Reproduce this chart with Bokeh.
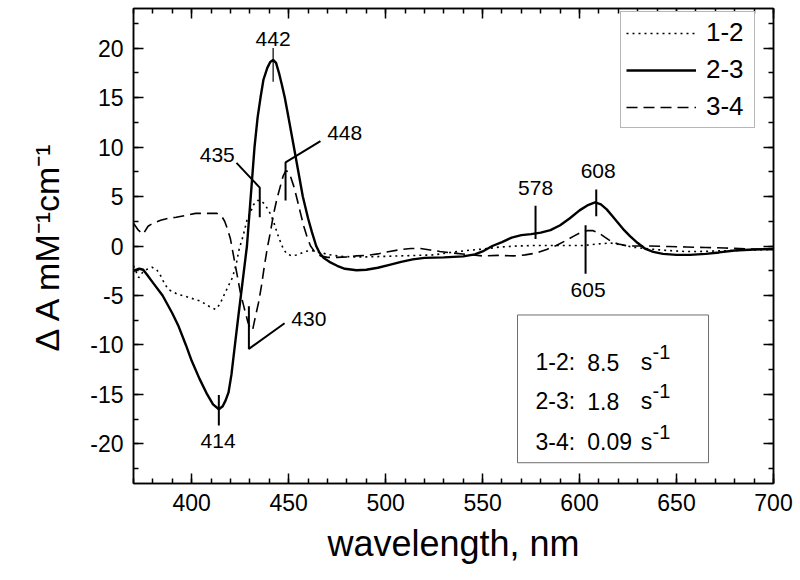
from bokeh.plotting import figure
from bokeh.models import (Range1d, LinearAxis, SingleIntervalTicker, CustomJSTickFormatter)
from bokeh.core.properties import value
from bokeh.embed import file_html
from bokeh.resources import INLINE

FONT = "Liberation Sans"

# ---------------- data ----------------
series_names = ["1-2", "2-3", "3-4"]

wl_12 = [370, 372.7, 375.3, 379.6, 382, 384, 386, 388, 392.5, 397, 401, 405, 408, 410, 412.3,
         414.5, 416.6, 419, 421, 423, 424.5, 426.5, 428.5, 430.3, 432, 433.8, 435.5, 437.2, 439,
         440.7, 442.5, 444.1, 446, 447.5, 449.5, 451.8, 454, 456.1, 458.5, 461.3, 464, 466.4, 470,
         476.8, 483, 490.5, 499, 507.7, 516, 524.9, 533.5, 542, 550.7, 559, 567.9, 576, 585, 594,
         602, 609, 616, 622, 628, 636, 645, 654, 662, 671, 680, 690, 700]
dA_12 = [-2.0, -3.2, -2.5, -2.15, -2.4, -3.0, -3.8, -4.4, -4.85, -5.1, -5.35, -5.6, -6.0, -6.2, -6.4,
         -5.9, -5.0, -4.0, -3.2, -1.8, -0.3, 1.0, 2.6, 3.4, 4.2, 4.6, 4.6, 4.3, 3.8,
         3.2, 2.3, 1.3, 0.3, -0.4, -0.85, -1.0, -0.9, -0.75, -0.55, -0.45, -0.55, -0.65, -0.85,
         -1.05, -1.1, -1.1, -1.05, -1.0, -0.95, -0.9, -0.65, -0.45, -0.3, -0.1, 0.0, 0.05, 0.05, 0.05,
         0.05, 0.2, 0.3, 0.1, -0.13, -0.3, -0.45, -0.55, -0.55, -0.5, -0.45, -0.4, -0.35]

wl_23 = [370, 373, 375, 377, 380, 385, 390, 393, 397, 400, 404, 408, 411, 414, 416, 417.5, 419,
         420.5, 422.3, 424, 426, 428.5, 430.5, 432.4, 434, 435.5, 437, 439, 440.5, 442, 443.5,
         445, 446.5, 448, 450, 452.7, 455, 457.3, 460, 462, 464.2, 466, 468, 471, 475, 479, 485,
         490, 496, 502, 508, 514, 520, 530, 540, 546, 550, 555, 560, 565, 570, 575, 580, 585, 590,
         595, 600, 604, 608, 611, 614, 617, 620, 623, 626, 630, 634, 638, 643, 650, 657, 665, 672,
         680, 690, 700]
dA_23 = [-2.5, -2.3, -2.4, -2.9, -3.7, -5.0, -6.8, -8.0, -10.0, -11.6, -13.4, -15.0, -16.0, -16.5,
         -16.2, -15.6, -14.8, -13.0, -10.0, -7.2, -4.0, 0.0, 5.1, 10.0, 13.0, 15.0, 16.8, 18.0, 18.6,
         18.8, 18.5, 17.5, 16.3, 15.0, 12.9, 10.0, 7.5, 5.0, 2.8, 1.4, 0.0, -0.7, -1.2, -1.6, -2.0,
         -2.3, -2.45, -2.4, -2.2, -1.9, -1.6, -1.35, -1.2, -1.15, -1.05, -0.85, -0.55, 0.0, 0.4,
         0.85, 1.1, 1.2, 1.35, 1.6, 2.1, 2.8, 3.6, 4.1, 4.4, 4.2, 3.7, 3.0, 2.3, 1.6, 1.0, 0.3,
         -0.3, -0.6, -0.8, -0.9, -0.9, -0.8, -0.65, -0.45, -0.35, -0.3]

wl_34 = [370, 372.5, 375, 377.5, 380, 384, 388, 392, 397, 402, 408, 413, 415.5, 417, 418.5, 420,
         421.5, 423.5, 425, 427, 429, 430.5, 431.5, 433, 434.5, 436, 437.5, 439, 440.5, 442.3, 444,
         445.8, 447.2, 448.5, 449.8, 451, 452.7, 454.4, 456, 457.8, 459.5, 461.3, 463.5, 466.4, 470,
         475, 480, 485, 490, 496, 502, 508, 513, 518, 523, 528, 534, 542, 550, 558, 566, 572, 578,
         583, 588, 593, 597, 601, 604, 607, 610, 613, 616, 620, 625, 636, 646, 655, 665, 675, 688,
         700]
dA_34 = [2.3, 1.6, 1.2, 2.0, 2.3, 2.6, 2.8, 2.9, 3.1, 3.3, 3.3, 3.3, 3.0, 2.5, 1.7, 0.7,
         -0.9, -3.0, -4.6, -6.2, -7.7, -8.5, -8.4, -7.0, -5.7, -4.0, -2.0, -0.2, 1.3, 3.3, 4.8,
         6.1, 7.1, 7.6, 7.5, 7.0, 6.0, 4.7, 3.4, 2.0, 0.9, 0.0, -0.6, -1.0, -1.15,
         -1.15, -1.1, -1.0, -0.95, -0.8, -0.55, -0.35, -0.25, -0.25, -0.4, -0.55, -0.7, -0.85, -1.0,
         -0.95, -1.0, -0.9, -0.7, -0.35, 0.05, 0.55, 1.0, 1.4, 1.55, 1.55, 1.3, 0.9, 0.5, 0.2, 0.0,
         0.0, -0.05, -0.1, -0.15, -0.2, -0.3, -0.35]

x_ticks_interval = 50
y_ticks_interval = 5

# peak annotations (label text, label position, marker polyline)
ann_labels = ["442", "435", "448", "430", "414", "578", "608", "605"]
ann_x = [442, 413.2, 478.9, 460.4, 413.6, 577.3, 609.6, 604.4]
ann_y = [20.9, 9.2, 11.4, -7.4, -19.7, 5.84, 7.6, -4.4]
mark_xs = [[442, 442], [423.1, 435.1, 435.1], [466.4, 448.4, 448.4], [447.9, 429.5, 429.5],
           [414, 414], [577.3, 577.3], [608.6, 608.6], [603.1, 603.1]]
mark_ys = [[16.6, 20.0], [8.4, 5.9, 2.9], [10.6, 8.45, 4.6], [-7.8, -10.4, -6.1],
           [-15.05, -18.15], [4.07, 0.7], [5.7, 3.0], [2.1, -2.8]]
mark_w = [1.2, 2, 2, 2, 2, 2, 2, 2]

# rate constants box
rate_pairs = ["1-2:", "2-3:", "3-4:"]
rate_values = ["8.5", "1.8", "0.09"]
rate_unit = "s"
rate_sup = "-1"
rate_rows_y = [-11.75, -15.7, -19.8]
box_left, box_right, box_top, box_bottom = 568.0, 666.5, -6.97, -21.9

# ---------------- figure ----------------
p = figure(width=800, height=580, output_backend="svg", toolbar_location=None,
           x_range=Range1d(370, 700), y_range=Range1d(-24, 24),
           min_border_left=133, min_border_right=27, min_border_top=8, min_border_bottom=97,
           background_fill_color="white", border_fill_color="white")
p.grid.visible = False
p.outline_line_color = "black"
p.outline_line_width = 1.5

bottom_ax = p.below[0]
left_ax = p.left[0]
top_ax = LinearAxis()
right_ax = LinearAxis()
p.add_layout(top_ax, "above")
p.add_layout(right_ax, "right")

xt = SingleIntervalTicker(interval=x_ticks_interval, num_minor_ticks=5)
yt = SingleIntervalTicker(interval=y_ticks_interval, num_minor_ticks=2)

for ax, tk in [(bottom_ax, xt), (top_ax, xt), (left_ax, yt), (right_ax, yt)]:
    ax.ticker = tk
    ax.major_tick_in = 10
    ax.major_tick_out = 0
    ax.minor_tick_in = 5
    ax.minor_tick_out = 0
    ax.axis_line_color = "black"
    ax.axis_line_width = 1.5
    ax.major_tick_line_color = "black"
    ax.major_tick_line_width = 1.5
    ax.minor_tick_line_color = "black"
    ax.minor_tick_line_width = 1.5
    ax.major_label_text_font = FONT
    ax.major_label_text_font_size = "23px"
    ax.major_label_text_color = "black"

for ax in (top_ax, right_ax):
    ax.formatter = CustomJSTickFormatter(code="return ''")
    ax.major_label_text_font_size = "0px"
    ax.major_label_standoff = 0

# plain hyphen-minus for negative tick labels, as in the reference
left_ax.formatter = CustomJSTickFormatter(code="return tick.toString()")
bottom_ax.formatter = CustomJSTickFormatter(code="return tick.toString()")

bottom_ax.major_label_standoff = 10
left_ax.major_label_standoff = 10
bottom_ax.axis_label = "wavelength, nm"
left_ax.axis_label = "Δ A mM⁻¹cm⁻¹"
for ax, sz, so in [(bottom_ax, "36px", 9), (left_ax, "34px", 21)]:
    ax.axis_label_text_font = FONT
    ax.axis_label_text_font_size = sz
    ax.axis_label_text_font_style = "normal"
    ax.axis_label_text_color = "black"
    ax.axis_label_standoff = so

# rate box (drawn first so curves/text sit on top)
p.quad(left=[box_left], right=[box_right], top=[box_top], bottom=[box_bottom],
       fill_color="white", line_color="#6e6e6e", line_width=1)

# curves
p.line(wl_12, dA_12, line_color="black", line_width=1.6, line_dash="2 4",
       legend_label=series_names[0])
p.line(wl_23, dA_23, line_color="black", line_width=2.4,
       legend_label=series_names[1])
p.line(wl_34, dA_34, line_color="black", line_width=1.6, line_dash="11 6",
       legend_label=series_names[2])

# peak markers and labels
p.multi_line(xs=mark_xs, ys=mark_ys, line_color="black", line_width=mark_w)
p.text(x=ann_x, y=ann_y, text=ann_labels, text_font=value(FONT), text_font_size="21px",
       text_align="center", text_baseline="middle", text_color="black")

# rate constants text
x_pair, x_val, x_unit, x_sup = 577.3, 604.0, 631.5, 637.6
p.text(x=[x_pair] * 3, y=rate_rows_y, text=rate_pairs, text_font=value(FONT),
       text_font_size="23px", text_baseline="alphabetic", text_color="black")
p.text(x=[x_val] * 3, y=rate_rows_y, text=rate_values, text_font=value(FONT),
       text_font_size="23px", text_baseline="alphabetic", text_color="black")
p.text(x=[x_unit] * 3, y=rate_rows_y, text=[rate_unit] * 3, text_font=value(FONT),
       text_font_size="23px", text_baseline="alphabetic", text_color="black")
p.text(x=[x_sup] * 3, y=[v + 1.0 for v in rate_rows_y], text=[rate_sup] * 3,
       text_font=value(FONT), text_font_size="20px", text_baseline="alphabetic",
       text_color="black")

# legend
lg = p.legend[0]
lg.location = (487, 355)
lg.border_line_color = "#6e6e6e"
lg.border_line_width = 1
lg.background_fill_color = "white"
lg.background_fill_alpha = 1
lg.padding = 5
lg.spacing = 6
lg.margin = 0
lg.glyph_width = 70
lg.glyph_height = 30
lg.label_height = 30
lg.label_width = 43
lg.label_standoff = 10
lg.label_text_font = FONT
lg.label_text_font_size = "26px"
lg.label_text_color = "black"

open("out.html", "w").write(file_html(p, INLINE))
